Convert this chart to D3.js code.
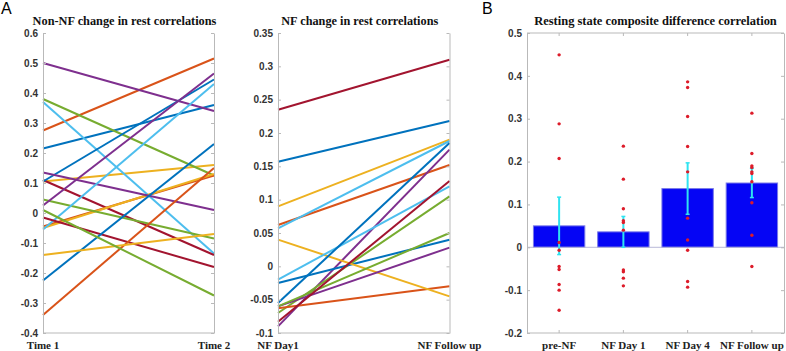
<!DOCTYPE html>
<html>
<head>
<meta charset="utf-8">
<script src="https://cdn.jsdelivr.net/npm/d3@7"></script>
<style>
  body { margin: 0; background: #fff; }
  svg { display: block; }
  .tick text { font-family: "Liberation Sans", Arial, sans-serif; font-weight: bold; font-size: 10px; fill: #333; }
  .xlab { font-family: "Liberation Serif", serif; font-weight: bold; font-size: 11px; fill: #222; }
  .title { font-family: "Liberation Serif", serif; font-weight: bold; fill: #111; }
</style>
</head>
<body>
<script>
// matlab default line colours
var lineColors = ['#0072BD', '#D95319', '#EDB120', '#7E2F8E', '#77AC30', '#4DBEEE', '#A2142F'];

// panel A left: non-NF
var nonNfLabels = ['Time 1', 'Time 2'];
var nonNfTime1 = [0.215, 0.275, 0.105, 0.50, 0.38, 0.37, 0.11,
                  0.105, -0.045, -0.05, 0.135, 0.045, -0.055, -0.015,
                  -0.225, -0.34, -0.14, 0.025, 0.01];
var nonNfTime2 = [0.36, 0.515, 0.16, 0.34, 0.125, -0.135, -0.14,
                  0.445, 0.125, 0.13, 0.01, -0.085, 0.43, -0.18,
                  0.23, 0.15, -0.07, 0.465, -0.275];
var nonNfTicks = [-0.4, -0.3, -0.2, -0.1, 0, 0.1, 0.2, 0.3, 0.4, 0.5, 0.6];

// panel A right: NF
var nfLabels = ['NF Day1', 'NF Follow up'];
var nfDay1 = [0.157, 0.062, 0.09, -0.09, -0.07, 0.057, 0.235,
              -0.025, -0.063, 0.04, -0.06, -0.06, -0.02, -0.083,
              -0.055];
var nfFollow = [0.218, 0.152, 0.19, 0.175, 0.105, 0.188, 0.31,
                0.04, -0.03, -0.045, 0.028, 0.05, 0.12, 0.128,
                0.185];
var nfTicks = [-0.1, -0.05, 0, 0.05, 0.1, 0.15, 0.2, 0.25, 0.3, 0.35];

// panel B
var groups = ['pre-NF', 'NF Day 1', 'NF Day 4', 'NF Follow up'];
var groupMeans = [0.05, 0.036, 0.137, 0.15];
var groupErr = [0.067, 0.036, 0.06, 0.034];
var prePoints = [0.449, 0.288, 0.207, 0.011, -0.007, -0.045, -0.052, -0.087, -0.1, -0.147];
var day1Points = [0.236, 0.159, 0.09, 0.062, 0.058, 0.04, -0.053, -0.057, -0.072, -0.09];
var day4Points = [0.386, 0.373, 0.305, 0.235, 0.176, 0.068, 0.017, -0.007, -0.08, -0.093];
var followPoints = [0.313, 0.219, 0.19, 0.186, 0.176, 0.172, 0.153, 0.104, 0.028, -0.045];
var barTicks = [-0.2, -0.1, 0, 0.1, 0.2, 0.3, 0.4, 0.5];

var W = 786, H = 351;
var axisCol = '#b9b9b9';

var svg = d3.select('body').append('svg').attr('width', W).attr('height', H);

function fmt(d) {
  if (d === 0) return '0';
  return String(+d.toFixed(2));
}

function fitTitle(x, y, str, target) {
  var t = svg.append('text').attr('class', 'title')
    .attr('x', x).attr('y', y)
    .attr('text-anchor', 'middle')
    .style('font-size', '13px')
    .text(str);
  var len = t.node().getComputedTextLength();
  t.style('font-size', (13 * target / len) + 'px');
}

function frame(x0, x1, yScale, ticks, topLine) {
  var g = svg.append('g');
  var yL = d3.axisLeft(yScale).tickValues(ticks).tickFormat(fmt).tickSizeInner(-3).tickSizeOuter(0).tickPadding(5);
  var yR = d3.axisRight(yScale).tickValues(ticks).tickFormat('').tickSizeInner(-3).tickSizeOuter(0);
  var gl = g.append('g').attr('transform', 'translate(' + x0 + ',0)').call(yL);
  var gr = g.append('g').attr('transform', 'translate(' + x1 + ',0)').call(yR);
  [gl, gr].forEach(function (a) {
    a.select('.domain').attr('stroke', axisCol);
    a.selectAll('.tick line').attr('stroke', axisCol);
  });
  var r = yScale.range();
  g.append('line').attr('x1', x0).attr('x2', x1).attr('y1', r[0]).attr('y2', r[0]).attr('stroke', axisCol);
  if (topLine) {
    g.append('line').attr('x1', x0).attr('x2', x1).attr('y1', r[1]).attr('y2', r[1]).attr('stroke', axisCol);
  }
  return g;
}

function slopePanel(x0, x1, domain, ticks, a, b, labels, title, titleW) {
  var x = d3.scalePoint().domain([0, 1]).range([x0, x1]);
  var y = d3.scaleLinear().domain(domain).range([333, 33]);

  var lines = svg.append('g');
  a.forEach(function (v, i) {
    lines.append('line')
      .attr('x1', x(0)).attr('y1', y(v))
      .attr('x2', x(1)).attr('y2', y(b[i]))
      .attr('stroke', lineColors[i % lineColors.length])
      .attr('stroke-width', 2);
  });

  frame(x0, x1, y, ticks, false);

  labels.forEach(function (l, i) {
    svg.append('text').attr('class', 'xlab')
      .attr('x', x(i)).attr('y', 348.5)
      .attr('text-anchor', 'middle')
      .text(l);
  });

  fitTitle((x0 + x1) / 2 - 4, 25, title, titleW);
}

slopePanel(43, 214, [-0.4, 0.6], nonNfTicks, nonNfTime1, nonNfTime2, nonNfLabels,
  'Non-NF change in rest correlations', 184);
slopePanel(278, 449.5, [-0.1, 0.35], nfTicks, nfDay1, nfFollow, nfLabels,
  'NF change in rest correlations', 157);

/* ===== BAR PANEL ===== */

var bx0 = 527, bx1 = 784;
var xB = d3.scaleBand().domain(groups).range([bx0, bx1]).paddingInner(0.2).paddingOuter(0.1);
var yB = d3.scaleLinear().domain([-0.2, 0.5]).range([333, 33]);
var allPoints = [prePoints, day1Points, day4Points, followPoints];

svg.append('g').selectAll('rect')
  .data(groupMeans)
  .enter()
  .append('rect')
  .attr('x', function (d, i) { return xB(groups[i]); })
  .attr('width', xB.bandwidth())
  .attr('y', function (d) { return yB(Math.max(0, d)); })
  .attr('height', function (d) { return Math.abs(yB(d) - yB(0)); })
  .attr('fill', '#0505f5')
  .attr('stroke', '#7a7ae8')
  .attr('stroke-width', 1);

svg.append('line')
  .attr('x1', bx0).attr('x2', bx1)
  .attr('y1', yB(0)).attr('y2', yB(0))
  .attr('stroke', '#b8b8d8');

var eb = svg.append('g');
groupMeans.forEach(function (m, i) {
  var cx = xB(groups[i]) + xB.bandwidth() / 2;
  var lo = yB(m - groupErr[i]), hi = yB(m + groupErr[i]);
  eb.append('line').attr('x1', cx).attr('x2', cx).attr('y1', lo).attr('y2', hi)
    .attr('stroke', '#2fe3f0').attr('stroke-width', 2);
  [lo, hi].forEach(function (yy) {
    eb.append('line').attr('x1', cx - 2).attr('x2', cx + 2).attr('y1', yy).attr('y2', yy)
      .attr('stroke', '#2fe3f0').attr('stroke-width', 1.5);
  });
});

var pts = svg.append('g');
allPoints.forEach(function (arr, i) {
  var cx = xB(groups[i]) + xB.bandwidth() / 2;
  pts.selectAll(null)
    .data(arr)
    .enter()
    .append('circle')
    .attr('cx', cx)
    .attr('cy', function (d) { return yB(d); })
    .attr('r', 1.7)
    .attr('fill', '#dd1c2a');
});

frame(bx0, bx1, yB, barTicks, true);

// x ticks top and bottom, inside
var xt = svg.append('g');
groups.forEach(function (gname) {
  var cx = xB(gname) + xB.bandwidth() / 2;
  xt.append('line').attr('x1', cx).attr('x2', cx).attr('y1', 333).attr('y2', 330).attr('stroke', axisCol);
  xt.append('line').attr('x1', cx).attr('x2', cx).attr('y1', 33).attr('y2', 36).attr('stroke', axisCol);
  svg.append('text').attr('class', 'xlab')
    .attr('x', cx).attr('y', 348.5)
    .attr('text-anchor', 'middle')
    .text(gname);
});

fitTitle((bx0 + bx1) / 2, 25, 'Resting state composite difference correlation', 243);

/* ===== PANEL LETTERS ===== */
svg.append('text').attr('x', 1).attr('y', 14)
  .style('font-family', '"Liberation Sans", Arial, sans-serif').style('font-size', '16px')
  .text('A');
svg.append('text').attr('x', 482).attr('y', 14)
  .style('font-family', '"Liberation Sans", Arial, sans-serif').style('font-size', '16px')
  .text('B');
</script>
</body>
</html>
